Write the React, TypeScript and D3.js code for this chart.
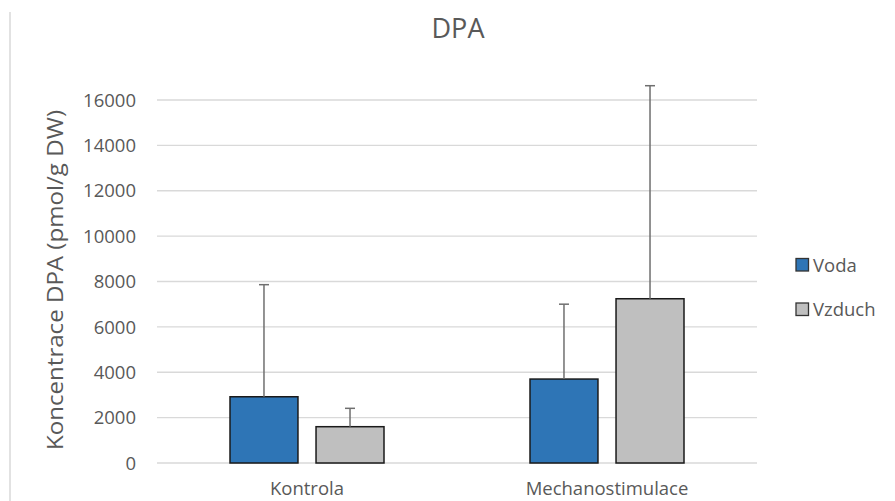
import React from "react";
import * as d3 from "d3";

const categories = ["Kontrola", "Mechanostimulace"];
const seriesNames = ["Voda", "Vzduch"];
const vodaValues = [2920, 3700];
const vzduchValues = [1600, 7240];
const vodaErrors = [4940, 3300];
const vzduchErrors = [810, 9390];
const yTicks = [0, 2000, 4000, 6000, 8000, 10000, 12000, 14000, 16000];
const colors = ["#2E75B6", "#BFBFBF"];

export default function App() {
  const W = 895, H = 501;
  const left = 157, right = 757, top = 100, bottom = 463;
  const x = d3.scaleBand<string>().domain(categories).range([left, right]).paddingInner(0).paddingOuter(0);
  const y = d3.scaleLinear().domain([0, 16000]).range([bottom, top]);
  const inner = d3.scaleBand<string>().domain(seriesNames).range([0, 154]).paddingInner(0.21);
  const values = [vodaValues, vzduchValues];
  const errors = [vodaErrors, vzduchErrors];
  const font = "'Open Sans', 'Liberation Sans', sans-serif";
  const textColor = "#595959";
  return (
    <svg width={W} height={H} style={{ position: "absolute", left: 0, top: 0, background: "#fff" }} fontFamily={font}>
      <rect x={0} y={0} width={W} height={H} fill="#fff" />
      <line x1={10} x2={10} y1={12} y2={H} stroke="#D9D9D9" strokeWidth={1.5} />
      <text x={458} y={38} textAnchor="middle" fontSize={28} fill={textColor} textLength={53} lengthAdjust="spacingAndGlyphs">DPA</text>
      {yTicks.map((t) => (
        <g key={t}>
          <line x1={left} x2={right} y1={y(t)} y2={y(t)} stroke="#D9D9D9" strokeWidth={1.3} />
          <text x={136} y={y(t)} dy="0.36em" textAnchor="end" fontSize={18.5} fill={textColor}>{t}</text>
        </g>
      ))}
      <text transform={`translate(63,280) rotate(-90)`} textAnchor="middle" fontSize={21} fill={textColor} textLength={340} lengthAdjust="spacingAndGlyphs">
        Koncentrace DPA (pmol/g DW)
      </text>
      {categories.map((c, ci) => {
        const cx = x(c)! + x.bandwidth() / 2;
        const gx = cx - 77;
        return (
          <g key={c}>
            {seriesNames.map((s, si) => {
              const bx = gx + inner(s)!;
              const bw = inner.bandwidth();
              const v = values[si][ci];
              const e = errors[si][ci];
              const mx = bx + bw / 2;
              return (
                <g key={s}>
                  <rect x={bx} y={y(v)} width={bw} height={y(0) - y(v)} fill={colors[si]} stroke="#1a1a1a" strokeWidth={1.5} />
                  <line x1={mx} x2={mx} y1={y(v)} y2={y(v + e)} stroke="#6f6f6f" strokeWidth={1.5} />
                  <line x1={mx - 5} x2={mx + 5} y1={y(v + e)} y2={y(v + e)} stroke="#6f6f6f" strokeWidth={1.5} />
                </g>
              );
            })}
            <text x={cx} y={495} textAnchor="middle" fontSize={18.5} fill={textColor}>{c}</text>
          </g>
        );
      })}
      {seriesNames.map((s, si) => (
        <g key={s} transform={`translate(796,${258.5 + si * 44.5})`}>
          <rect x={0} y={0} width={12.5} height={12.5} fill={colors[si]} stroke="#333" strokeWidth={1.3} />
          <text x={17} y={13} fontSize={18.5} fill={textColor}>{s}</text>
        </g>
      ))}
    </svg>
  );
}
